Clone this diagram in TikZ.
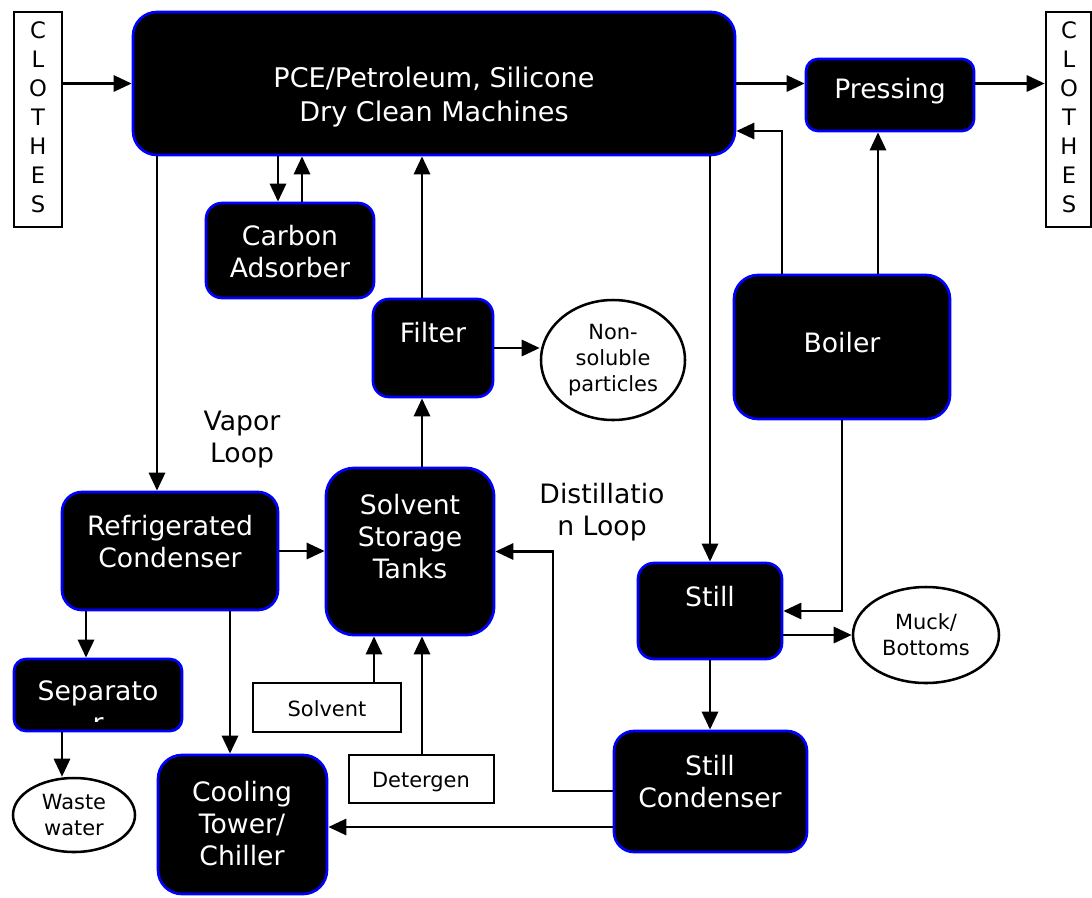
\documentclass[tikz,border=0pt]{standalone}
\usepackage{fontspec}
\setmainfont{DejaVu Sans}
\usetikzlibrary{arrows.meta,fit,shapes.geometric}

\begin{document}
\begin{tikzpicture}[x=0.75pt,y=-0.75pt,
  blk/.style={draw=blue,line width=2pt,fill=black,inner sep=0pt,rounded corners=#1},
  blk/.default=12pt,
  wbox/.style={draw,line width=1.9pt,fill=white,inner sep=0pt},
  oval/.style={draw,ellipse,line width=1.9pt,inner sep=0pt},
  wtxt/.style={text=white,align=center,font=\fontsize{20}{24}\selectfont},
  btxt/.style={align=center,font=\fontsize{20}{24}\selectfont},
  stxt/.style={align=center,font=\fontsize{15.7}{19.5}\selectfont},
  ctxt/.style={align=center,font=\fontsize{17}{21.75}\selectfont},
  arr/.style={-{Triangle[length=13.5pt,width=12pt]},line width=2.2pt}]
  \useasboundingbox (0,0) rectangle (1092,897);

  % boxes
  \node[wbox,fit={(14,12) (62,227)}] (clin) {};
  \node[wbox,fit={(1046,12) (1091,227)}] (clout) {};
  \node[blk=18pt,fit={(133,12) (735,155)}] (mach) {};
  \node[blk=9pt,fit={(806,59) (974,131)}] (press) {};
  \node[blk,fit={(206,203) (374,298)}] (carb) {};
  \node[blk,fit={(373,299) (493,397)}] (filt) {};
  \node[blk=18pt,fit={(734,275) (950,419)}] (boil) {};
  \node[blk=21pt,fit={(326,468) (494,635)}] (tank) {};
  \node[blk=15pt,fit={(62,492) (278,610)}] (refr) {};
  \node[blk,fit={(638,563) (782,659)}] (still) {};
  \node[blk=9pt,fit={(14,659) (182,731)}] (sep) {};
  \node[blk=18pt,fit={(158,755) (327,894)}] (cool) {};
  \node[blk=15pt,fit={(614,731) (807,852)}] (stcd) {};
  \node[wbox,fit={(253,683) (401,732)}] (solv) {};
  \node[wbox,fit={(349,755) (494,803)}] (deter) {};
  \node[oval,minimum width=108pt,minimum height=90pt,stxt] (nons) at (613,360) {Non-\\soluble\\particles};
  \node[oval,minimum width=109.5pt,minimum height=72pt,stxt] (muck) at (926,635) {Muck/\\Bottoms};
  \node[oval,minimum width=91.5pt,minimum height=55.5pt,stxt] (waste) at (74,815) {Waste\\water};

  % texts
  \node[ctxt] (clin-t) at (38,117) {C\\L\\O\\T\\H\\E\\S};
  \node[ctxt] (clout-t) at (1069,117) {C\\L\\O\\T\\H\\E\\S};
  \node[wtxt,font=\fontsize{20.3}{25.5}\selectfont] (mach-t) at (434,97) {PCE/Petroleum, Silicone\\Dry Clean Machines};
  \node[wtxt] (press-t) at (890,91) {Pressing};
  \node[wtxt] (carb-t) at (290,252) {Carbon\\Adsorber};
  \node[wtxt] (filt-t) at (433,333) {Filter};
  \node[wtxt] (boil-t) at (842,343) {Boiler};
  \node[wtxt] (tank-t) at (410,537) {Solvent\\Storage\\Tanks};
  \node[wtxt] (refr-t) at (170,542) {Refrigerated\\Condenser};
  \node[wtxt] (still-t) at (710,597) {Still};
  \node[wtxt] (sep-t) at (98,693) {Separato};
  \begin{scope}
    \clip (sep.north west) rectangle (182,721);
    \node[wtxt] (sep-r) at (98,725) {r};
  \end{scope}
  \node[wtxt] (cool-t) at (242,824) {Cooling\\Tower/\\Chiller};
  \node[wtxt] (stcd-t) at (710,782) {Still\\Condenser};
  \node[stxt] (solv-t) at (327,709) {Solvent};
  \node[stxt] (deter-t) at (421,782) {Detergen};
  \node[btxt] (vapor) at (242,440) {Vapor\\Loop};
  \node[btxt] (dist) at (602,512) {Distillatio\\n Loop};

  % connectors
  \draw[arr] (clin.east |- mach.west) -- (mach.west);
  \draw[arr] (mach.east) -- (press.west |- mach.east);
  \draw[arr] (press.east |- mach.east) -- (clout.west |- mach.east);
  \draw[arr] (boil.north -| 782,0) |- (mach.east |- 0,131);
  \draw[arr] (boil.north -| 878,0) -- (press.south -| 878,0);
  \draw[arr] (mach.south -| 278,0) -- (carb.north -| 278,0);
  \draw[arr] (carb.north -| 302,0) -- (mach.south -| 302,0);
  \draw[arr] (mach.south -| 157,0) -- (refr.north -| 157,0);
  \draw[arr] (filt.north -| 422,0) -- (mach.south -| 422,0);
  \draw[arr] (tank.north -| 422,0) -- (filt.south -| 422,0);
  \draw[arr] (filt.east) -- (nons.west |- filt.east);
  \draw[arr] (mach.south -| 710,0) -- (still.north);
  \draw[arr] (boil.south) |- (still.east);
  \draw[arr] (still.east |- muck.west) -- (muck.west);
  \draw[arr] (still.south) -- (stcd.north -| still.south);
  \draw[arr] (stcd.west |- 0,791) -| (553,0 |- tank.east) -- (tank.east);
  \draw[arr] (stcd.west |- 0,827) -- (cool.east |- 0,827);
  \draw[arr] (refr.east) -- (tank.west |- refr.east);
  \draw[arr] (refr.south -| 86,0) -- (sep.north -| 86,0);
  \draw[arr] (refr.south -| 230,0) -- (cool.north -| 230,0);
  \draw[arr] (sep.south -| 62,0) -- (waste.north -| 62,0);
  \draw[arr] (solv.north -| 374,0) -- (tank.south -| 374,0);
  \draw[arr] (deter.north -| 422,0) -- (tank.south -| 422,0);
\end{tikzpicture}
\end{document}
